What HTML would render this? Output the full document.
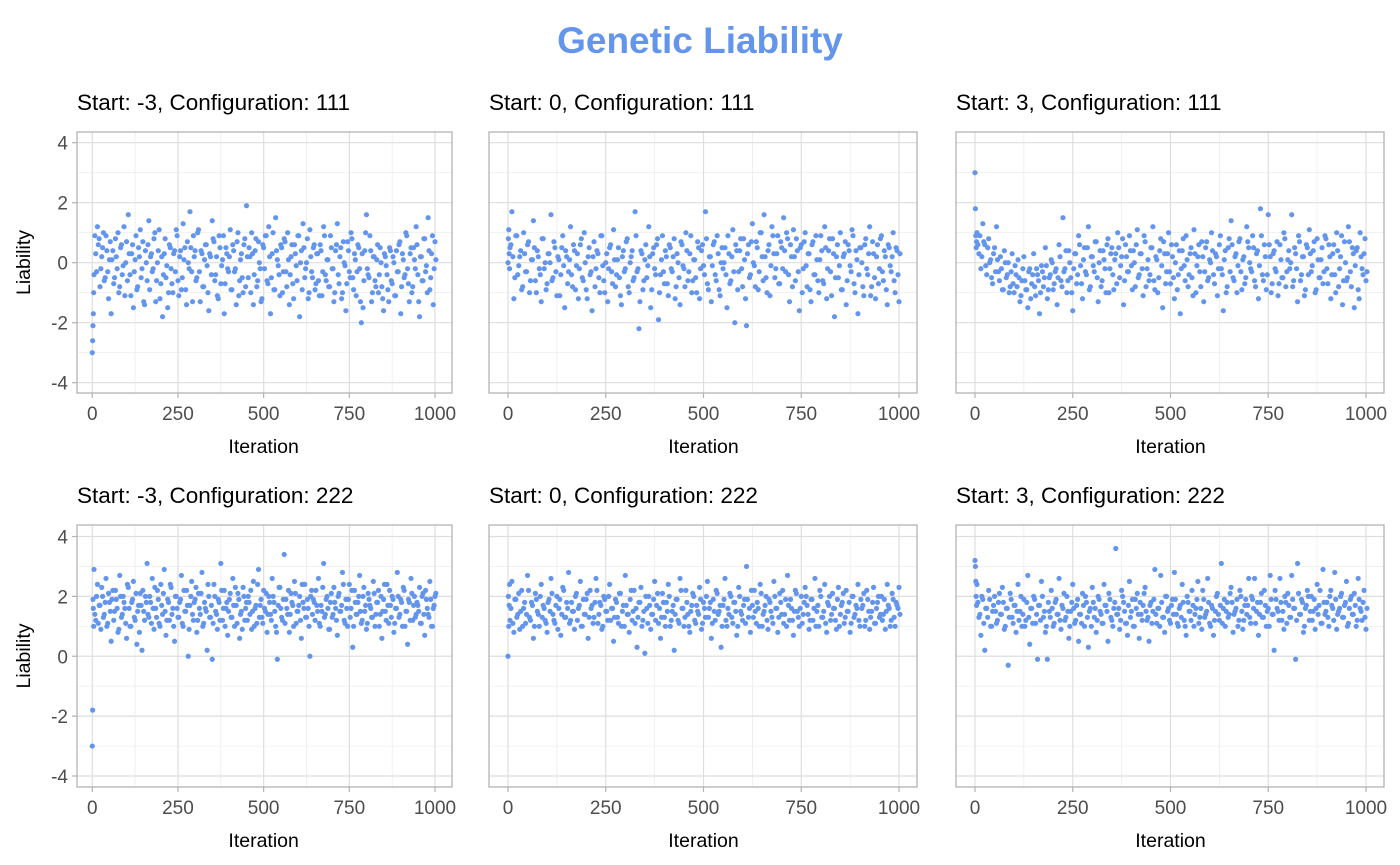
<!DOCTYPE html>
<html><head><meta charset="utf-8"><style>
body{margin:0;background:#fff}
svg{display:block;font-family:"Liberation Sans",Arial,sans-serif}
</style></head><body>
<svg id="chart" width="1400" height="865" viewBox="0 0 1400 865" xmlns="http://www.w3.org/2000/svg">
<text x="700" y="53" text-anchor="middle" font-size="37" font-weight="bold" fill="#6495ED">Genetic Liability</text>
</svg>
<script>
const xTicks=[0,250,500,750,1000];
const xMinor=[125,375,625,875];
const yTicks=[-4,-2,0,2,4];
const yMinor=[-3,-1,1,3];
const titles=["Start: -3, Configuration: 111","Start: 0, Configuration: 111","Start: 3, Configuration: 111","Start: -3, Configuration: 222","Start: 0, Configuration: 222","Start: 3, Configuration: 222"];
const p1=[-3.0,-2.6,-2.1,-1.7,-1.0,
-0.4,0.3,1.2,0.8,-0.2,0.5,-0.6,0.9,-0.3,0.1,
-1.7,0.4,-0.5,0.2,1.0,-0.8,0.6,-0.1,-1.1,0.7,
1.6,-0.4,0.3,-1.5,0.1,-0.9,0.5,1.1,-0.2,-1.3,
0.4,-0.6,1.4,0.2,-0.3,0.8,-1.3,0.0,1.1,-0.7,
-1.8,0.3,-0.5,-1.5,0.6,-0.2,-1.0,0.4,1.1,-0.6,
0.2,-0.9,1.3,0.5,-1.4,0.0,1.7,-0.3,0.9,0.4,
-0.5,1.1,-1.3,0.3,-0.8,0.6,-0.1,-1.6,0.2,1.4,
0.7,-0.4,-1.1,0.9,-0.7,0.1,-1.7,0.5,-0.2,0.2,
-0.9,0.6,-0.3,-1.4,1.0,-0.6,0.3,-1.0,0.8,1.9,
-0.5,0.2,1.0,-1.4,0.4,-0.8,0.7,-0.2,-1.2,0.5,
0.9,-0.6,1.2,-1.7,0.3,-0.9,1.5,0.1,-0.4,0.6,
-1.0,0.8,-0.3,1.0,-1.4,0.2,-0.7,0.6,-0.1,0.9,
-1.8,0.4,1.3,-0.5,0.0,-1.2,1.1,-0.3,0.5,-0.9,
0.3,-0.6,0.6,-1.1,1.2,-0.4,0.1,-0.8,0.9,-0.2,
-1.3,0.4,1.3,-0.7,0.5,-1.0,0.0,-1.6,0.7,-0.3,
1.0,-0.5,0.3,-1.1,0.6,-0.2,-2.0,-1.5,0.4,1.6,
-0.4,0.9,-1.3,0.2,-0.6,0.1,-1.0,0.5,-0.8,-1.6,
0.2,-0.4,-1.3,0.4,-0.7,0.0,-1.1,-0.3,0.6,-1.7,
0.3,-0.5,1.0,-0.2,-1.3,0.5,-0.8,0.1,1.2,-0.4,
-1.8,0.2,-0.6,0.8,-0.1,1.5,-0.9,0.3,-1.4,0.7];
const q1=[
0.9,-0.3,0.6,-0.8,0.2,1.0,-0.5,0.4,-1.2,0.7,
0.1,-0.7,0.8,-0.2,-1.0,0.5,-0.4,1.2,0.0,-0.6,
0.3,-1.1,0.6,-0.3,0.9,-0.8,0.2,-0.5,0.7,-1.4,
0.0,0.6,-0.9,0.3,-0.2,1.0,-0.6,0.4,-1.2,0.2,
-0.4,0.8,-0.1,-1.0,0.5,-0.7,0.3,-0.3,0.9,-1.1,
0.4,-0.5,0.1,-0.9,0.7,-0.2,0.5,-1.3,0.2,-0.6,
1.0,-0.3,0.4,-0.8,0.1,0.6,-1.0,0.3,-0.4,0.8,
-0.6,0.2,-1.2,0.5,-0.1,0.9,-0.7,0.3,-0.3,1.1,
-0.9,0.4,-0.2,0.7,-1.1,0.1,-0.5,0.6,-0.8,0.2,
0.5,-1.0,0.3,-0.4,0.8,-0.6,0.0,-1.3,0.6,-0.2,
0.9,-0.7,0.2,-0.5,1.0,-0.9,0.4,-0.1,-1.1,0.5,
-0.3,0.7,-0.8,0.1,-0.4,0.6,-1.2,0.3,-0.6,0.9,
0.0,-0.9,0.5,-0.2,0.8,-1.0,0.2,-0.5,0.6,-0.7,
0.3,-1.1,0.4,-0.3,0.9,-0.6,0.1,-0.8,0.5,-0.2,
-1.0,0.6,-0.4,0.2,-1.2,0.7,-0.1,-0.7,0.4,-0.5,
0.8,-0.9,0.1,-0.3,0.5,-1.3,0.3,-0.6,1.0,-0.2,
-0.5,0.4,-1.0,0.2,-0.8,0.6,-0.4,0.0,-1.2,0.3,
-0.1,-0.9,0.5,-0.6,0.2,-1.1,0.4,-0.3,0.7,-0.8,
0.1,-0.4,0.9,-0.7,0.3,-1.0,0.5,-0.2,0.6,-1.3,
0.2,-0.6,0.8,-0.3,-1.0,0.4,-0.5,0.9,-0.2,0.1];
const p2=[0.0,0.8,1.1,0.3,-0.2,
0.5,1.7,-1.2,0.9,-0.4,0.2,-0.9,1.0,-0.3,0.6,
-1.0,0.1,1.4,-0.6,0.4,-0.2,-1.3,0.8,0.0,-0.7,
0.3,1.6,-0.5,0.5,-1.1,0.1,-0.4,0.9,-1.5,0.2,
-0.3,1.2,-0.8,0.4,-0.1,-1.2,0.6,-0.5,1.0,-0.9,
0.2,-0.4,-1.6,0.7,-0.2,0.3,-1.0,0.9,-0.6,0.0,
-1.3,0.5,-0.3,1.1,-0.8,0.1,-0.5,-1.4,0.4,-0.2,
0.8,-1.0,0.2,-0.6,1.7,-0.3,-2.2,0.4,-0.9,0.1,
-0.5,1.2,-1.5,0.3,-0.2,0.6,-1.9,-0.4,0.9,-0.7,
0.2,-1.1,0.5,-0.3,0.8,-0.8,0.0,-1.4,0.6,-0.2,
1.0,-0.6,0.3,-1.0,0.1,-0.5,0.7,-1.2,0.4,-0.1,
1.7,-0.7,0.2,-1.3,0.6,-0.4,0.9,-0.9,0.0,-0.2,
0.5,-1.5,0.3,-0.6,1.1,-2.0,0.4,-0.3,0.8,-0.8,
0.1,-2.1,0.6,-0.4,1.3,-0.1,0.7,-0.9,1.0,0.2,
1.6,-0.5,0.4,-1.1,1.2,0.3,-0.2,0.9,-0.7,0.5,
1.5,-0.3,0.8,-1.3,0.2,1.1,-0.6,0.4,-1.6,0.6,
-0.2,1.0,-0.8,0.3,-1.3,0.7,-0.4,0.1,-1.0,0.9,
-0.6,1.2,-1.2,0.4,-0.3,0.8,-1.8,0.2,-0.5,1.0,
-0.9,0.3,-1.4,0.6,-0.1,1.1,-0.7,0.4,-1.7,0.5,
0.0,-1.1,0.8,-0.4,1.2,-0.8,0.3,-1.2,0.6,-0.2,
0.9,-0.6,0.2,-1.4,0.5,-0.3,1.0,-1.0,0.4,-1.3];
const q2=[
0.6,0.2,-0.5,0.9,-0.1,0.4,-0.8,0.3,-0.3,0.7,
-0.6,0.1,0.5,-1.0,0.2,-0.4,0.8,-0.2,-0.9,0.3,
0.0,-0.6,0.7,-0.3,0.2,-1.1,0.5,-0.1,0.4,-0.7,
0.1,-0.4,0.6,-0.9,0.3,-0.2,0.8,-0.6,0.0,-1.2,
0.5,-0.3,0.2,-0.8,0.4,-0.5,0.9,-0.1,-1.0,0.3,
-0.2,0.6,-0.7,0.1,-0.4,0.5,-1.1,0.2,-0.3,0.7,
-0.8,0.0,0.4,-0.5,0.9,-0.2,-1.3,0.3,-0.6,0.6,
-0.1,0.2,-0.9,0.5,-0.4,0.8,-1.0,0.1,-0.3,0.4,
-0.7,0.6,-0.2,0.2,-1.2,0.3,-0.5,0.7,-0.1,-0.8,
0.4,-0.3,0.9,-0.6,0.1,-1.0,0.5,-0.2,0.6,-0.4,
0.8,-0.9,0.2,-0.1,0.7,-0.6,0.3,-1.1,0.5,0.0,
-0.4,0.9,-0.7,0.2,-0.3,0.6,-0.9,0.4,-0.2,0.8,
-1.2,0.3,-0.5,0.7,0.0,-0.8,0.5,-0.3,1.0,-0.6,
0.2,-1.0,0.6,-0.1,0.9,-0.5,0.3,-0.7,0.7,-0.2,
0.4,1.0,-0.4,0.6,-0.8,0.2,0.8,-0.3,0.5,-1.0,
0.7,-0.1,0.3,-0.9,0.6,-0.4,0.9,-0.6,0.1,0.4,
-0.7,0.5,-0.2,0.8,-1.1,0.3,-0.5,0.6,-0.1,-0.9,
0.2,0.7,-0.6,0.4,-0.3,0.9,-1.0,0.1,-0.4,0.5,
-0.8,0.6,-0.2,0.3,-1.1,0.7,-0.5,0.2,-0.7,0.8,
-0.3,0.4,-0.9,0.6,-0.1,0.2,-0.6,0.5,-0.4,0.3];
const p3=[3.0,1.8,0.9,0.5,0.7,
1.0,0.3,-0.2,1.3,0.6,-0.4,0.8,0.1,-0.7,0.5,
1.2,-0.3,0.2,-0.9,0.4,-0.5,0.0,-0.8,0.3,-1.0,
-0.4,0.1,-1.3,-0.6,0.2,-0.9,-1.5,-0.2,-0.7,0.3,
-1.1,-0.4,-1.7,-0.1,-0.8,0.5,-1.2,-0.5,0.1,-0.9,
-0.3,-1.4,0.6,-0.6,1.5,-0.2,-1.0,0.4,-0.5,-1.6,
0.3,-0.7,0.9,-0.1,-1.2,0.5,-0.4,1.2,-0.8,0.2,
-0.3,0.7,-1.3,0.4,-0.6,0.1,-1.0,0.8,-0.2,0.5,
-0.9,0.3,1.0,-0.5,0.2,-1.4,0.6,-0.3,0.9,-0.1,
0.4,-0.8,1.1,-0.4,0.3,-1.1,0.7,-0.2,-0.6,0.5,
1.2,-0.9,0.1,-0.5,0.8,-1.5,0.3,-0.3,1.0,-0.7,
0.2,-1.2,0.6,-0.4,-1.7,0.4,-0.1,0.9,-0.8,0.3,
-0.5,1.1,-1.0,0.2,-0.3,0.7,-1.3,0.5,-0.6,0.1,
1.0,-0.4,0.3,-1.1,0.6,-0.2,-1.6,0.4,-0.8,0.8,
1.4,-0.5,0.2,-1.0,0.7,-0.3,0.1,-0.7,1.2,0.5,
-0.2,0.9,-0.6,0.3,-1.2,1.8,-0.4,0.6,-0.9,1.6,
0.2,-0.7,0.4,-0.3,-1.1,0.6,-0.5,1.0,-0.8,0.1,
-0.2,1.6,-0.6,0.3,-1.3,0.7,-0.4,0.2,-0.9,0.5,
1.1,-0.3,0.4,-1.0,0.8,-0.5,0.1,-0.7,0.9,-0.2,
0.6,-1.2,0.3,-0.4,1.0,-0.8,0.2,-1.4,0.7,-0.6,
1.2,-0.3,0.5,-1.5,0.4,-0.9,1.0,-0.2,0.3,-0.6];
const q3=[
0.6,0.9,0.2,0.7,-0.1,0.5,0.0,-0.5,0.3,-0.3,
0.1,-0.6,-0.2,-0.9,0.0,-0.4,-1.0,-0.3,-0.7,-0.1,
-0.8,-0.5,-1.1,-0.2,-0.6,-0.9,-0.3,-1.2,-0.4,-0.8,
-0.2,-0.6,-1.0,-0.3,-0.5,-0.1,-0.9,-0.4,0.0,-0.7,
-0.2,-0.5,0.2,-0.8,-0.3,0.4,-0.6,0.0,-1.0,-0.2,
0.3,-0.4,0.6,-0.7,0.1,-0.3,0.5,-0.9,0.2,-0.1,
0.7,-0.5,0.0,-0.8,0.4,-0.2,0.6,-1.0,0.3,-0.4,
0.1,-0.7,0.5,-0.1,0.8,-0.6,0.2,-0.3,0.4,-0.9,
0.0,0.6,-0.5,0.3,-0.2,0.9,-0.8,0.1,-0.4,0.5,
-0.6,0.2,-1.0,0.4,-0.1,0.7,-0.7,0.3,-0.3,0.6,
-0.5,0.0,-0.9,0.4,-0.2,0.8,-0.6,0.1,-0.4,0.5,
-1.1,0.3,-0.1,0.6,-0.8,0.2,-0.3,0.7,-0.5,0.0,
0.4,-0.7,0.2,-0.2,0.9,-0.4,0.1,-1.0,0.5,-0.3,
0.6,-0.6,0.3,-0.1,0.8,-0.9,0.2,-0.5,0.7,0.0,
-0.3,0.5,-0.8,0.4,-0.1,0.9,-0.6,0.2,-0.4,0.6,
-1.0,0.3,-0.2,0.7,-0.7,0.1,-0.5,0.8,-0.3,0.4,
0.0,-0.8,0.5,-0.2,0.9,-0.6,0.2,-1.1,0.6,-0.4,
0.3,-0.1,0.7,-0.9,0.1,-0.5,0.5,-0.3,0.8,-0.7,
0.2,-0.4,0.6,-1.0,0.4,-0.2,0.9,-0.6,0.0,-0.5,
0.7,-0.8,0.3,-0.1,0.5,-1.2,0.2,-0.4,0.8,-0.3];
const p4=[-3.0,-1.8,1.9,1.6,1.0,
2.9,1.2,2.4,1.7,0.9,2.0,1.4,2.6,1.1,1.8,
0.5,2.2,1.5,1.9,0.8,2.7,1.3,2.0,1.6,0.6,
2.3,1.0,1.8,2.5,1.2,0.4,1.7,2.1,0.2,1.5,
2.0,3.1,1.3,1.8,2.6,0.9,1.6,2.2,1.1,2.4,
1.4,2.9,0.7,1.9,1.2,2.3,1.6,0.5,2.0,1.3,
1.8,2.7,1.0,1.5,2.2,0.0,1.7,2.5,1.2,1.9,
0.8,2.1,1.4,2.8,1.1,1.6,0.2,2.0,1.3,-0.1,
2.4,1.5,0.9,1.8,3.1,1.2,2.2,1.6,0.7,1.9,
1.3,2.6,1.0,1.7,2.1,0.6,1.5,2.3,1.2,1.8,
2.0,1.4,0.9,2.5,1.6,1.1,2.9,1.7,1.3,2.2,
1.5,0.8,2.0,1.4,2.6,1.8,1.0,-0.1,2.3,1.6,
1.2,3.4,1.9,1.4,0.8,2.1,1.7,2.5,1.1,1.5,
2.0,0.6,1.8,2.4,1.3,1.6,0.0,2.2,1.9,1.2,
1.7,2.6,1.0,1.5,3.1,1.4,2.0,0.9,1.8,1.3,
2.3,1.6,0.7,2.1,1.5,2.8,1.2,1.9,1.0,2.4,
1.6,0.3,2.2,1.4,1.8,2.7,1.1,2.0,1.5,0.9,
2.1,1.7,1.3,2.5,1.0,1.8,2.2,1.4,0.6,1.9,
1.5,2.4,1.1,1.7,2.0,0.8,1.6,2.8,1.3,1.9,
1.0,2.2,1.5,0.4,1.8,2.6,1.2,2.0,1.4,1.7,
2.3,1.1,2.1,0.7,1.9,1.4,2.5,1.0,1.6,2.0];
const q4=[
1.4,2.0,1.1,1.7,2.3,1.3,1.8,1.0,2.1,1.5,
1.9,1.2,2.2,1.6,0.9,2.0,1.4,1.8,1.1,2.4,
1.6,1.0,1.9,1.3,2.1,1.5,0.8,1.7,2.2,1.2,
1.8,1.4,2.0,1.1,1.6,2.3,1.3,1.9,1.0,1.7,
2.1,1.5,1.2,1.8,2.4,1.4,1.0,2.0,1.6,1.3,
1.9,1.1,2.2,1.5,1.7,0.9,2.0,1.4,1.8,2.3,
1.2,1.6,2.1,1.0,1.8,1.5,2.4,1.3,1.7,1.1,
2.0,1.4,1.9,1.2,2.2,1.6,1.0,1.8,1.5,2.1,
1.3,1.7,2.3,1.1,1.9,1.4,0.9,2.0,1.6,1.2,
1.8,2.2,1.5,1.0,1.7,2.4,1.3,1.9,1.1,1.6,
2.1,1.4,1.8,1.2,2.0,1.5,0.8,1.7,2.3,1.3,
1.9,1.1,1.6,2.2,1.4,1.8,1.0,2.1,1.5,1.7,
1.2,2.4,1.6,1.3,1.9,1.0,2.0,1.4,1.8,2.2,
1.5,1.1,1.7,2.3,1.3,1.9,1.6,0.9,2.1,1.4,
1.8,1.2,2.0,1.5,1.7,2.4,1.1,1.6,1.9,1.3,
2.2,1.0,1.8,1.4,2.0,1.5,1.2,2.3,1.7,1.1,
1.9,1.6,1.3,2.1,1.4,1.8,1.0,2.0,1.5,2.4,
1.2,1.7,2.2,1.3,1.9,1.1,1.6,2.0,1.4,1.8,
2.3,1.0,1.5,1.9,1.2,2.1,1.7,1.3,1.8,1.5,
1.1,2.0,1.4,2.2,1.6,1.3,1.9,1.0,1.7,2.1];
const p5=[0.0,2.0,1.0,1.7,2.4,
1.2,2.5,0.8,1.9,1.4,0.9,2.2,1.6,1.1,2.7,
1.3,1.8,0.6,2.1,1.5,1.0,2.4,1.7,1.2,0.8,
1.9,2.6,1.4,1.1,2.0,1.6,0.7,2.3,1.3,1.8,
2.8,1.2,1.5,0.9,2.1,1.6,2.5,1.0,1.4,1.9,
0.6,2.2,1.7,1.3,2.6,1.1,1.8,0.9,2.0,1.5,
1.2,2.4,1.6,0.5,1.9,1.3,2.1,1.0,1.7,2.7,
1.4,0.8,2.2,1.5,1.1,0.3,1.8,2.3,1.2,0.1,
1.6,2.0,0.9,1.4,2.5,1.7,1.1,0.6,2.1,1.3,
1.8,2.4,1.0,1.5,0.2,1.9,1.2,2.6,1.6,1.0,
2.2,1.4,0.8,1.7,2.0,1.1,1.5,2.3,0.9,1.8,
1.3,2.5,1.6,0.6,1.9,1.2,2.1,1.5,0.3,1.7,
2.6,1.0,1.4,2.0,1.1,1.8,0.7,2.3,1.5,1.2,
1.9,3.0,1.3,0.8,1.7,2.2,1.1,1.6,2.4,1.0,
1.5,2.0,0.9,1.8,1.3,2.5,1.6,0.8,2.1,1.4,
1.1,1.9,2.7,1.2,1.6,0.7,2.2,1.5,1.0,2.0,
1.4,2.3,1.7,0.9,1.9,1.2,2.6,1.5,1.0,2.0,
1.3,2.4,0.8,1.7,1.2,2.1,1.6,0.9,2.3,1.4,
1.8,1.1,2.2,1.5,0.8,2.0,1.3,1.7,2.4,1.0,
1.6,2.1,1.2,1.9,0.9,1.5,2.3,1.1,1.8,1.3,
2.0,1.4,0.9,2.4,1.6,1.2,1.9,1.0,1.7,2.3];
const q5=[
1.6,1.1,1.9,1.3,2.1,1.5,1.0,1.8,1.4,2.2,
1.2,1.7,1.0,1.9,1.4,2.0,1.3,1.6,1.1,1.8,
1.5,2.1,1.2,1.7,0.9,1.9,1.4,2.2,1.3,1.6,
1.1,1.8,1.5,2.0,1.2,1.7,1.0,1.9,1.4,2.1,
1.3,1.6,1.1,1.8,2.2,1.4,1.7,1.0,1.9,1.5,
2.0,1.2,1.6,1.3,1.8,1.1,2.1,1.5,1.0,1.7,
1.4,1.9,1.2,2.2,1.6,1.3,1.8,1.0,1.5,2.0,
1.1,1.7,1.4,1.9,1.2,2.1,1.6,1.3,1.8,1.0,
1.5,2.0,1.2,1.7,1.4,1.9,1.1,2.2,1.6,1.3,
1.8,1.0,1.5,2.1,1.2,1.7,1.4,1.9,1.1,1.6,
2.0,1.3,1.8,1.1,1.5,2.2,1.4,1.7,1.0,1.9,
1.2,1.6,2.1,1.3,1.8,1.5,1.0,2.0,1.4,1.7,
1.1,1.9,1.6,2.2,1.3,1.5,1.8,1.0,2.1,1.4,
1.7,1.2,1.9,1.5,1.1,2.0,1.6,1.3,1.8,2.2,
1.4,1.0,1.7,1.9,1.2,1.5,2.1,1.3,1.6,1.1,
1.8,2.0,1.4,1.2,1.9,1.6,1.0,1.7,2.2,1.3,
1.5,1.1,1.8,2.0,1.4,1.6,1.2,1.9,1.0,1.7,
2.1,1.3,1.5,1.8,1.1,2.0,1.4,1.6,1.2,1.9,
1.7,1.0,2.2,1.5,1.3,1.8,1.1,1.6,2.0,1.4,
1.2,1.9,1.5,1.7,1.0,2.1,1.3,1.8,1.6,1.4];
const p6=[3.2,3.0,2.5,2.0,1.7,
2.4,1.3,0.7,1.9,0.2,1.6,2.2,1.0,1.5,2.0,
1.1,1.8,1.4,2.3,0.9,1.6,-0.3,2.1,1.3,1.7,
0.8,2.4,1.5,1.0,1.9,1.2,2.7,0.4,1.6,2.0,
1.1,-0.1,1.7,2.5,1.3,0.8,-0.1,1.5,2.2,1.0,
1.8,1.4,2.6,0.9,1.6,1.2,2.0,0.6,1.5,2.4,
1.1,1.7,0.5,1.4,2.1,1.0,1.8,0.3,1.6,2.3,
1.3,0.8,2.0,1.5,1.1,2.4,1.7,0.5,1.9,1.2,
1.6,3.6,1.4,0.9,2.2,1.8,1.1,0.7,2.5,1.5,
1.0,1.9,2.1,0.6,1.4,1.7,2.3,1.2,0.5,1.8,
1.5,2.9,1.1,1.6,2.7,1.3,0.8,2.0,1.6,1.1,
1.9,2.8,1.4,1.0,1.7,2.4,1.2,0.7,1.8,1.5,
2.2,1.0,1.6,2.5,1.3,0.9,1.9,1.4,2.6,1.1,
1.7,0.7,1.5,2.1,1.2,3.1,1.6,1.0,1.8,1.4,
2.3,0.8,1.5,1.9,1.2,2.0,0.9,1.7,1.4,2.6,
1.1,1.9,2.6,1.5,0.7,1.8,1.3,2.2,1.0,1.6,
2.7,1.4,0.2,1.9,1.5,2.6,1.2,0.9,1.8,2.1,
1.3,2.7,1.6,-0.1,3.1,1.4,1.9,0.8,1.6,2.2,
1.2,2.0,1.5,0.9,2.4,1.7,1.1,2.9,1.4,1.8,
1.0,2.2,1.6,2.8,0.9,1.5,2.0,1.3,1.7,2.5,
1.1,1.9,1.4,2.1,1.0,2.6,1.6,1.2,2.2,0.9];
const q6=[
1.8,1.4,2.0,1.1,1.6,1.3,1.9,1.0,1.7,1.5,
1.2,2.1,1.4,1.8,1.0,1.6,1.3,1.9,1.1,1.7,
1.5,1.2,2.0,1.4,1.0,1.8,1.3,1.6,1.1,1.9,
1.4,1.7,1.2,2.0,1.5,1.0,1.8,1.3,1.6,1.1,
1.9,1.4,1.2,1.7,2.1,1.3,1.5,1.0,1.8,1.6,
1.2,1.9,1.4,1.1,1.7,2.0,1.3,1.5,1.0,1.8,
1.6,1.2,1.9,1.4,1.1,1.7,1.5,2.1,1.3,1.0,
1.8,1.4,1.6,1.2,2.0,1.5,1.1,1.7,1.3,1.9,
1.0,1.6,1.4,1.8,1.2,2.1,1.5,1.3,1.7,1.1,
1.9,1.4,1.6,1.0,1.8,1.3,2.0,1.5,1.2,1.7,
1.4,1.9,1.1,1.6,1.3,1.8,1.0,2.0,1.5,1.2,
1.7,1.4,1.9,1.1,1.6,2.2,1.3,1.5,1.8,1.0,
1.6,1.2,2.0,1.4,1.7,1.1,1.9,1.5,1.3,2.1,
1.8,1.4,1.6,1.0,2.2,1.5,1.2,1.9,1.7,1.3,
2.0,1.6,1.1,1.8,1.4,2.1,1.3,1.7,1.5,1.0,
1.9,1.4,2.2,1.6,1.2,1.8,1.5,2.0,1.1,1.7,
1.3,1.9,1.6,1.2,2.1,1.4,1.8,1.0,1.7,2.0,
1.5,1.2,1.9,1.6,1.4,2.2,1.1,1.8,1.5,1.3,
2.0,1.7,1.2,1.9,1.4,1.6,2.1,1.3,1.8,1.0,
1.6,2.0,1.4,1.7,1.2,1.9,1.5,1.8,1.3,1.6];
const series=[p1,p2,p3,p4,p5,p6];
const extra=[q1,q2,q3,q4,q5,q6];

const NS="http://www.w3.org/2000/svg";
const svg=document.getElementById('chart');
function mk(tag,attrs,parent){const e=document.createElementNS(NS,tag);for(const k in attrs)e.setAttribute(k,attrs[k]);(parent||svg).appendChild(e);return e;}
const cols=[{l:77,r:452,x0:92.3,x1:435},{l:489,r:917,x0:508,x1:899},{l:956,r:1384,x0:975,x1:1366}];
const rows=[{t:132,b:393,y4:142.7,yn4:382.7},{t:525,b:787,y4:536.5,yn4:776}];
function iterOf(i){return i<5?i:(i-4)*5;}
for(let p=0;p<6;p++){
  const c=cols[p%3], r=rows[Math.floor(p/3)];
  const xs=v=>c.x0+(v/1000)*(c.x1-c.x0);
  const ys=v=>r.y4+(4-v)/8*(r.yn4-r.y4);
  const g=mk('g',{});
  
  
  const st=mk('text',{x:c.l,y:r.t-22,'font-size':22.5,fill:'#000'},g);
  st.textContent=titles[p];
  
  
  xMinor.forEach(v=>mk('line',{x1:xs(v),x2:xs(v),y1:r.t,y2:r.b,stroke:'#ebebeb','stroke-width':0.7},g));
  yMinor.forEach(v=>mk('line',{x1:c.l,x2:c.r,y1:ys(v),y2:ys(v),stroke:'#ebebeb','stroke-width':0.7},g));
  xTicks.forEach(v=>{
    mk('line',{x1:xs(v),x2:xs(v),y1:r.t,y2:r.b,stroke:'#dedede','stroke-width':1.2},g);
    mk('line',{x1:xs(v),x2:xs(v),y1:r.b,y2:r.b+5,stroke:'#b3b3b3','stroke-width':1.2},g);
    const t=mk('text',{x:xs(v),y:r.b+27,'text-anchor':'middle','font-size':19,fill:'#4d4d4d'},g);
    t.textContent=v;
    
    
  });
  yTicks.forEach(v=>{
    mk('line',{x1:c.l,x2:c.r,y1:ys(v),y2:ys(v),stroke:'#dedede','stroke-width':1.2},g);
    if(p%3===0){
      mk('line',{x1:c.l-5,x2:c.l,y1:ys(v),y2:ys(v),stroke:'#b3b3b3','stroke-width':1.2},g);
      const t=mk('text',{x:c.l-9,y:ys(v)+7,'text-anchor':'end','font-size':19,fill:'#4d4d4d'},g);
      t.textContent=v;
      
      
    }
  });
  const pts=mk('g',{fill:'#6495ED'},g);
  
  
  series[p].forEach((v,i)=>{
    const d=mk('circle',{cx:xs(iterOf(i)),cy:ys(v),r:2.6},pts);
    
    
  });
  extra[p].forEach((v,i)=>{
    const d=mk('circle',{cx:xs(7.5+i*5),cy:ys(v),r:2.6},pts);
    
    
  });
  const bd=mk('rect',{x:c.l,y:r.t,width:c.r-c.l,height:r.b-r.t,fill:'none',stroke:'#b3b3b3','stroke-width':1.3},g);
  
  
  const xl=mk('text',{x:(c.x0+c.x1)/2,y:r.b+60,'text-anchor':'middle','font-size':19.5,fill:'#000'},g);
  xl.textContent='Iteration';
  
  
  if(p%3===0){
    const cy=(r.t+r.b)/2;
    const yl=mk('text',{x:30,y:cy,'text-anchor':'middle','font-size':19.5,fill:'#000',transform:'rotate(-90 30 '+cy+')'},g);
    yl.textContent='Liability';
    
    
  }
}
</script>
</body></html>
